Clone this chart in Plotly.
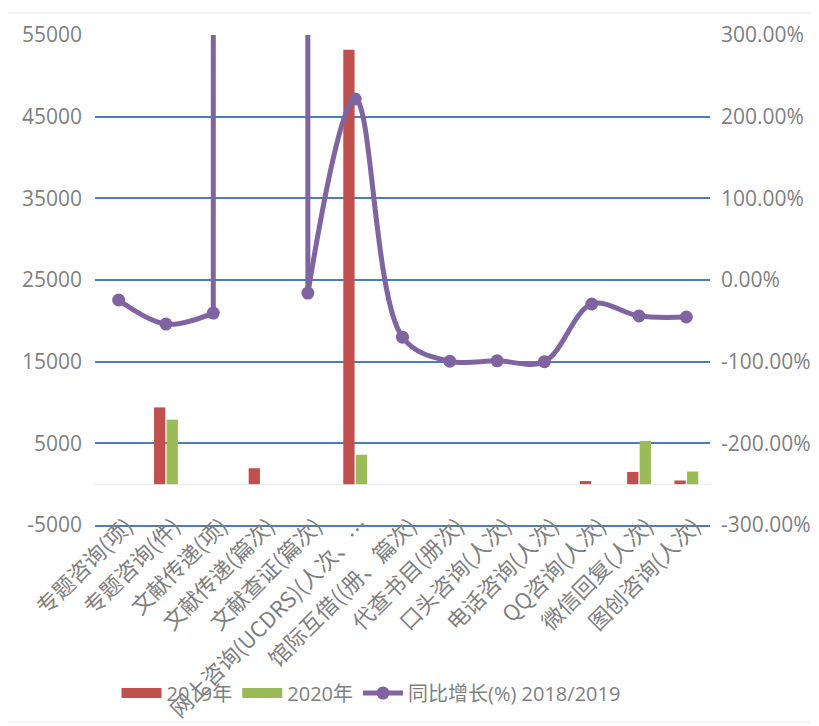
import plotly.graph_objects as go

categories = ["专题咨询(项)", "专题咨询(件)", "文献传递(项)", "文献传递(篇次)", "文献查证(篇次)",
              "网上咨询(UCDRS)(人次、…", "馆际互借((册、篇次)", "代查书目(册次)", "口头咨询(人次)",
              "电话咨询(人次)", "QQ咨询(人次)", "微信回复(人次)", "图创咨询(人次)"]
y2019 = [0, 9400, 0, 1950, 0, 53200, 0, 0, 0, 0, 380, 1500, 450]
y2020 = [0, 7900, 0, 0, 0, 3600, 0, 0, 0, 0, 0, 5300, 1550]
growth = [-0.245, -0.54, -0.405, 3000.0, -0.16, 2.215, -0.70, -0.995, -0.99, -1.0, -0.294, -0.441, -0.453]

y_ticks = [-5000, 5000, 15000, 25000, 35000, 45000, 55000]
y_labels = ["-5000", "5000", "15000", "25000", "35000", "45000", "55000"]
y2_ticks = [-3, -2, -1, 0, 1, 2, 3]
y2_labels = ["-300.00%", "-200.00%", "-100.00%", "0.00%", "100.00%", "200.00%", "300.00%"]

RED, GREEN, PURPLE = "#C0504D", "#9BBB59", "#8064A2"
GRID = "#4A7EBB"
GRAY = "#7F7F7F"
Y2_MAX = 3

fig = go.Figure()
fig.add_trace(go.Bar(x=categories, y=y2019, name="2019年", showlegend=False,
                     marker=dict(color=RED, line=dict(width=0))))
fig.add_trace(go.Bar(x=categories, y=y2020, name="2020年", showlegend=False,
                     marker=dict(color=GREEN, line=dict(width=0))))

# points far above the axis are joined with straight segments, the rest is smoothed
for i, g in enumerate(growth):
    if g > Y2_MAX:
        fig.add_trace(go.Scatter(x=categories[i - 1:i + 2], y=growth[i - 1:i + 2], yaxis="y2",
                                 mode="lines", line=dict(color=PURPLE, width=5), showlegend=False,
                                 hoverinfo="skip"))
growth_in = [g if g <= Y2_MAX else None for g in growth]
fig.add_trace(go.Scatter(x=categories, y=growth_in, name="同比增长(%) 2018/2019", yaxis="y2",
                         mode="lines+markers", connectgaps=False,
                         line=dict(color=PURPLE, width=5, shape="spline", smoothing=1),
                         marker=dict(size=13, color=PURPLE), legendrank=3))
# wide legend swatches for the bar series
fig.add_trace(go.Scatter(x=[None], y=[None], mode="lines", name="2019年",
                         line=dict(color=RED, width=15), legendrank=1))
fig.add_trace(go.Scatter(x=[None], y=[None], mode="lines", name="2020年",
                         line=dict(color=GREEN, width=15), legendrank=2))

fig.update_layout(
    width=811, height=718,
    margin=dict(l=87, r=109, t=27, b=201),
    paper_bgcolor="white", plot_bgcolor="white",
    font=dict(family="Open Sans, Noto Sans CJK SC", color=GRAY, size=21),
    barmode="group", bargap=0.47, bargroupgap=0.1,
    xaxis=dict(range=[-0.5, len(categories) - 0.5], tickangle=-45, showgrid=False, showline=True,
               linecolor=GRID, linewidth=1.5,
               ticks="", automargin=False, ticklabelstandoff=-22, ticklabelshift=8,
               tickfont=dict(family="Noto Sans CJK SC", size=22, color=GRAY)),
    yaxis=dict(range=[-5000, 55000], tickvals=y_ticks, ticktext=y_labels, showgrid=True, gridcolor=GRID,
               gridwidth=1.5, zeroline=True, zerolinecolor="#EDEDED", zerolinewidth=1,
               showline=False, ticks="", automargin=False, ticklabelstandoff=12),
    yaxis2=dict(range=[-Y2_MAX, Y2_MAX], tickvals=y2_ticks, ticktext=y2_labels, overlaying="y",
                side="right", showgrid=False, zeroline=False, ticks="", automargin=False,
                ticklabelstandoff=10),
    legend=dict(orientation="h", x=0.035, xanchor="left", y=-0.343, yanchor="middle",
                font=dict(size=20, color=GRAY, family="Open Sans, Noto Sans CJK SC"),
                traceorder="normal", itemwidth=40, bgcolor="rgba(0,0,0,0)"),
    showlegend=True,
    shapes=[dict(type="rect", xref="paper", yref="paper", x0=-0.146, x1=1.171, y0=-0.402, y1=1.045,
                 line=dict(color="#EBEBEB", width=1), layer="below")],
)

fig.write_html("out.html")
